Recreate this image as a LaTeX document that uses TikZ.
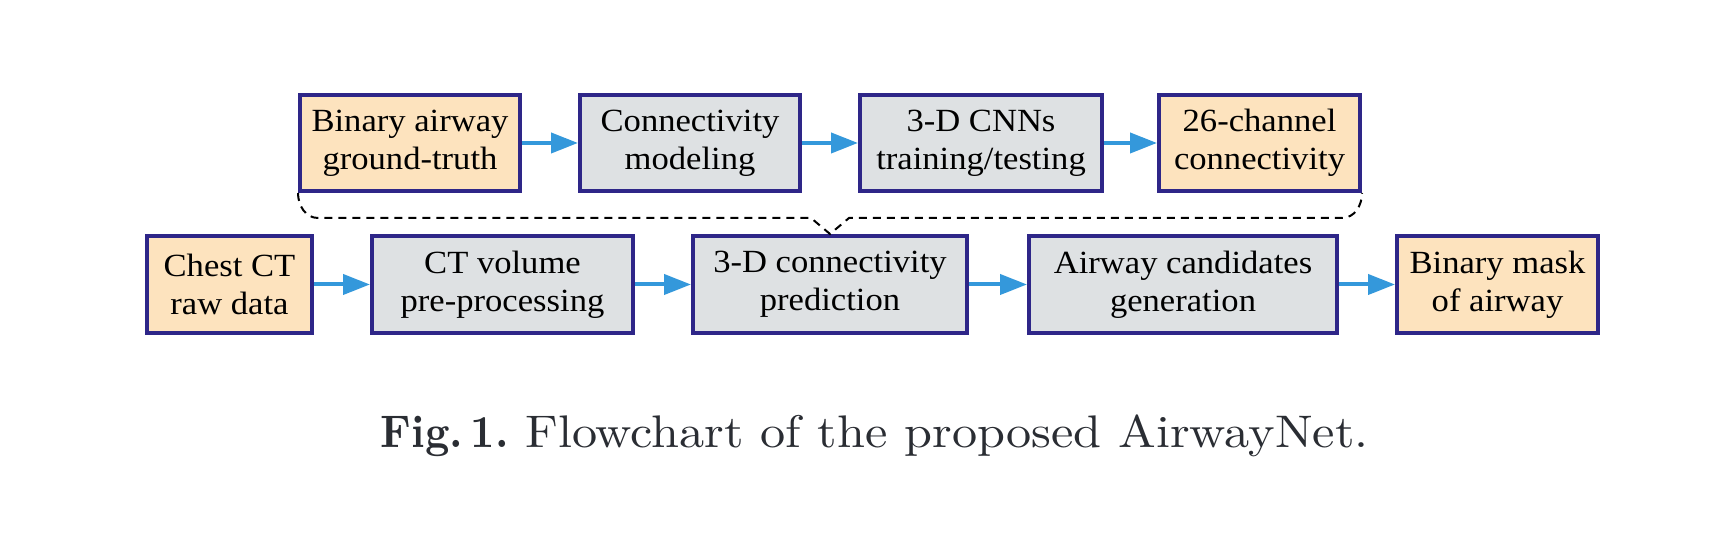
\documentclass[tikz,border=0pt]{standalone}
\usepackage{fontspec}
\newfontfamily\boxfont{Liberation Serif}[FakeStretch=1.07]
\newfontfamily\capfont{lmroman10-regular}[Extension=.otf,BoldFont=lmroman10-bold,
  FakeStretch=1.1,BoldFeatures={FakeStretch=0.93}]
\usepackage{tikz}
\usetikzlibrary{calc,positioning}
\usetikzlibrary{arrows.meta,backgrounds}

\definecolor{framec}{RGB}{46,38,136}
\definecolor{datac}{RGB}{253,227,190}
\definecolor{stepc}{RGB}{222,225,227}
\definecolor{flowc}{RGB}{52,152,219}
\definecolor{capc}{RGB}{42,45,51}

\tikzset{
  blk/.style={draw=framec,line width=0.4mm,minimum height=9.6mm,inner sep=0pt,align=center,
              font=\boxfont\fontsize{9.2}{10.8}\selectfont},
  datbox/.style={blk,fill=datac},
  stepbox/.style={blk,fill=stepc},
  flow/.style={draw=flowc,line width=0.4mm,-{Triangle[length=2.7mm,width=2mm]}},
  brk/.style={line width=0.2mm,dash pattern=on 0.8mm off 0.6mm},
}

\begin{document}
\begin{tikzpicture}
  %\draw[color=gray,step=1mm, help lines,opacity=0.3] (0mm,0mm) grid (171mm,53.8mm); %help grids
  \useasboundingbox (0mm,0mm) rectangle (171mm,53.8mm);
  % upper row
  \node[datbox,minimum width=22mm]   (gt)    at (41mm,39.5mm)     {Binary airway\\ground-truth};
  \node[stepbox,minimum width=22mm]  (model) at (69mm,39.5mm)     {Connectivity\\modeling};
  \node[stepbox,minimum width=24.2mm](cnn)   at (98.1mm,39.5mm)   {3-D CNNs\\training/testing};
  \node[datbox,minimum width=20.1mm] (chan)  at (125.95mm,39.5mm) {26-channel\\connectivity};
  % lower row
  \node[datbox,minimum width=16.5mm,minimum height=9.7mm]  (ct)   at (22.95mm,25.35mm)  {Chest CT\\raw data};
  \node[stepbox,minimum width=26.1mm,minimum height=9.7mm] (pre)  at (50.25mm,25.35mm)  {CT volume\\pre-processing};
  \node[stepbox,minimum width=27.4mm,minimum height=9.7mm] (pred) at (83mm,25.35mm)     {3-D connectivity\\prediction};
  \node[stepbox,minimum width=30.8mm,minimum height=9.7mm] (cand) at (118.3mm,25.35mm)  {Airway candidates\\generation};
  \node[datbox,minimum width=20.1mm,minimum height=9.7mm]  (mask) at (149.75mm,25.35mm) {Binary mask\\of airway};
  \draw[flow] (gt) -- (model);
  \draw[flow] (model) -- (cnn);
  \draw[flow] (cnn) -- (chan);
  \draw[flow] (ct) -- (pre);
  \draw[flow] (pre) -- (pred);
  \draw[flow] (pred) -- (cand);
  \draw[flow] (cand) -- (mask);
  % dashed bracket
  \draw[brk] (gt.south west) to[out=-90,in=180] ($(gt.south west)+(2mm,-2.5mm)$)
    -- ($(pred.north)+(-1.9mm,1.6mm)$) -- (pred.north) -- ($(pred.north)+(1.9mm,1.6mm)$)
    -- ($(chan.south east)+(-2mm,-2.5mm)$) to[out=0,in=-90] (chan.south east);
  \node[anchor=base west,inner sep=0pt,text=capc,font=\capfont\fontsize{13}{15}\selectfont] (cap) at (38mm,9mm)
    {\textbf{Fig.\,1.}\ Flowchart of the proposed AirwayNet.};
\end{tikzpicture}
\end{document}
